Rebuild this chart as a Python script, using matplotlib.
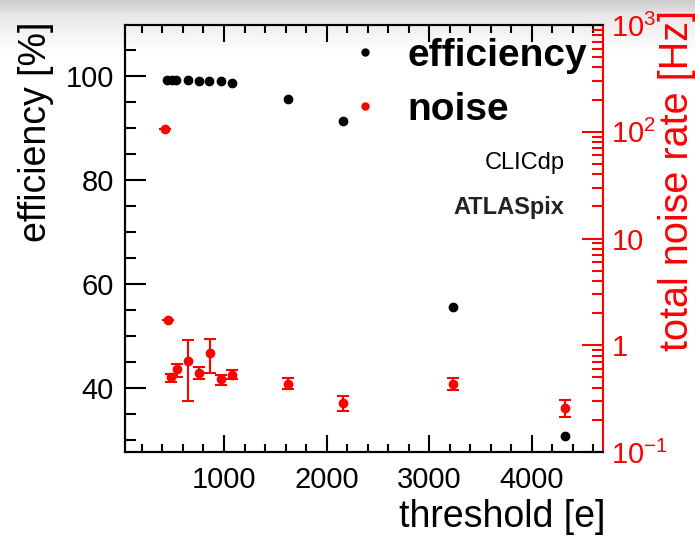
import matplotlib
matplotlib.use("Agg")
import matplotlib.pyplot as plt
import matplotlib.ticker as ticker
import numpy as np

plt.rcParams['font.family'] = ['Liberation Sans', 'DejaVu Sans']
plt.rcParams['mathtext.fontset'] = 'custom'
plt.rcParams['mathtext.rm'] = 'Liberation Sans'
plt.rcParams['mathtext.it'] = 'Liberation Sans'

# efficiency vs threshold
eff_thr = [441, 490, 532, 646, 753, 857, 968, 1078, 1621, 2160, 3235, 4324]
eff_val = [99.3, 99.3, 99.3, 99.2, 99.1, 99.1, 99.0, 98.7, 95.5, 91.3, 55.6, 30.8]

# noise rate vs threshold (Hz)
noise_thr = [425, 457, 480, 539, 646, 756, 861, 971, 1078, 1621, 2160, 3235, 4324]
noise_val = [105, 1.71, 0.499, 0.593, 0.713, 0.551, 0.847, 0.478, 0.528, 0.438, 0.287, 0.438, 0.259]
noise_hi = [105, 1.71, 0.543, 0.664, 1.13, 0.62, 1.145, 0.532, 0.583, 0.494, 0.332, 0.494, 0.306]
noise_lo = [105, 1.71, 0.454, 0.506, 0.301, 0.484, 0.545, 0.42, 0.478, 0.386, 0.243, 0.38, 0.214]

fig = plt.figure(figsize=(6.95, 5.39), dpi=100)

# screenshot-like shading at the top
bg = fig.add_axes([0, 0, 1, 1], zorder=-10)
rows = np.arange(539)
shade = np.where(rows < 12, 0.80 + 0.08 * rows / 12, np.clip(0.90 + 0.10 * (rows - 12) / 40, 0, 1))
grad = np.ones((539, 695)) * shade[:, None]
bg.imshow(grad, cmap='gray', vmin=0, vmax=1, aspect='auto')
bg.axis('off')

ax = fig.add_axes([125 / 695, 1 - 452 / 539, (603 - 125) / 695, (452 - 25) / 539])
ax.patch.set_alpha(0)
ax2 = ax.twinx()

ax.plot(eff_thr, eff_val, 'o', color='black', markersize=6, zorder=3)
yerr = [np.array(noise_val) - np.array(noise_lo), np.array(noise_hi) - np.array(noise_val)]
ax2.errorbar(noise_thr, noise_val, yerr=yerr, fmt='o', color='red', markersize=6,
             elinewidth=1.5, capsize=4, capthick=1.5)

ax.set_xlim(35, 4695)
ax.set_ylim(27.7, 109.8)
ax2.set_yscale('log')
ax2.set_ylim(0.1, 1000)

# left / bottom axis ticks
ax.xaxis.set_major_locator(ticker.MultipleLocator(1000))
ax.xaxis.set_minor_locator(ticker.MultipleLocator(200))
ax.yaxis.set_major_locator(ticker.MultipleLocator(20))
ax.yaxis.set_minor_locator(ticker.MultipleLocator(5))
ax.tick_params(axis='both', which='both', direction='in', top=True, right=False, width=1.5)
ax.tick_params(axis='y', which='major', length=15, labelsize=21, pad=8)
ax.tick_params(axis='y', which='minor', length=8)
ax.tick_params(axis='x', which='major', length=12, labelsize=21, pad=10)
ax.tick_params(axis='x', which='minor', length=6)
ax.xaxis.set_major_formatter(ticker.FuncFormatter(lambda v, p: '' if v <= 0 else '%d' % v))

# right axis ticks
ax2.yaxis.set_major_locator(ticker.FixedLocator([0.1, 1, 10, 100, 1000]))
ax2.yaxis.set_major_formatter(ticker.FixedFormatter(['$10^{-1}$', '1', '10', '$10^{2}$', '$10^{3}$']))
ax2.yaxis.set_minor_locator(ticker.LogLocator(base=10, subs=np.arange(2, 10)))
ax2.yaxis.set_minor_formatter(ticker.NullFormatter())
ax2.tick_params(axis='y', which='both', direction='in', colors='red', width=1.5)
ax2.tick_params(axis='y', which='major', length=15, labelsize=21, pad=6)
ax2.tick_params(axis='y', which='minor', length=8)

for s in ['left', 'bottom', 'top']:
    ax.spines[s].set_linewidth(1.5)
    ax2.spines[s].set_linewidth(1.5)
ax2.spines['right'].set_color('red')
ax2.spines['right'].set_linewidth(1.5)
ax.spines['right'].set_visible(False)

# axis titles
fig.text(605 / 695, 1 - 517 / 539, 'threshold [e]', fontsize=27, ha='right', va='center')
fig.text(36 / 695, 1 - 22 / 539, 'efficiency [%]', fontsize=27, rotation=90, ha='center', va='top')
fig.text(677 / 695, 1 - 10 / 539, 'total noise rate [Hz]', fontsize=28.5, rotation=90,
         ha='center', va='top', color='red')

# legend
h1, = ax.plot([], [], 'o', color='black', markersize=5)
h2, = ax.plot([], [], 'o', color='red', markersize=5)
leg = ax.legend([h1, h2], ['efficiency', 'noise'], loc='upper left',
                bbox_to_anchor=(311 / 695, 1 - 3 / 539), bbox_transform=fig.transFigure,
                frameon=False, prop={'size': 28, 'weight': 'bold'}, handlelength=1.0,
                handletextpad=0.57, labelspacing=0.45, borderpad=0.4)

ax.text(0.92, 0.677, 'CLICdp', transform=ax.transAxes, ha='right', va='center', fontsize=17)
ax.text(0.92, 0.573, 'ATLASpix', transform=ax.transAxes, ha='right', va='center',
        fontsize=17, fontweight='bold', color='#222222')

fig.savefig('out.png', dpi=100)
